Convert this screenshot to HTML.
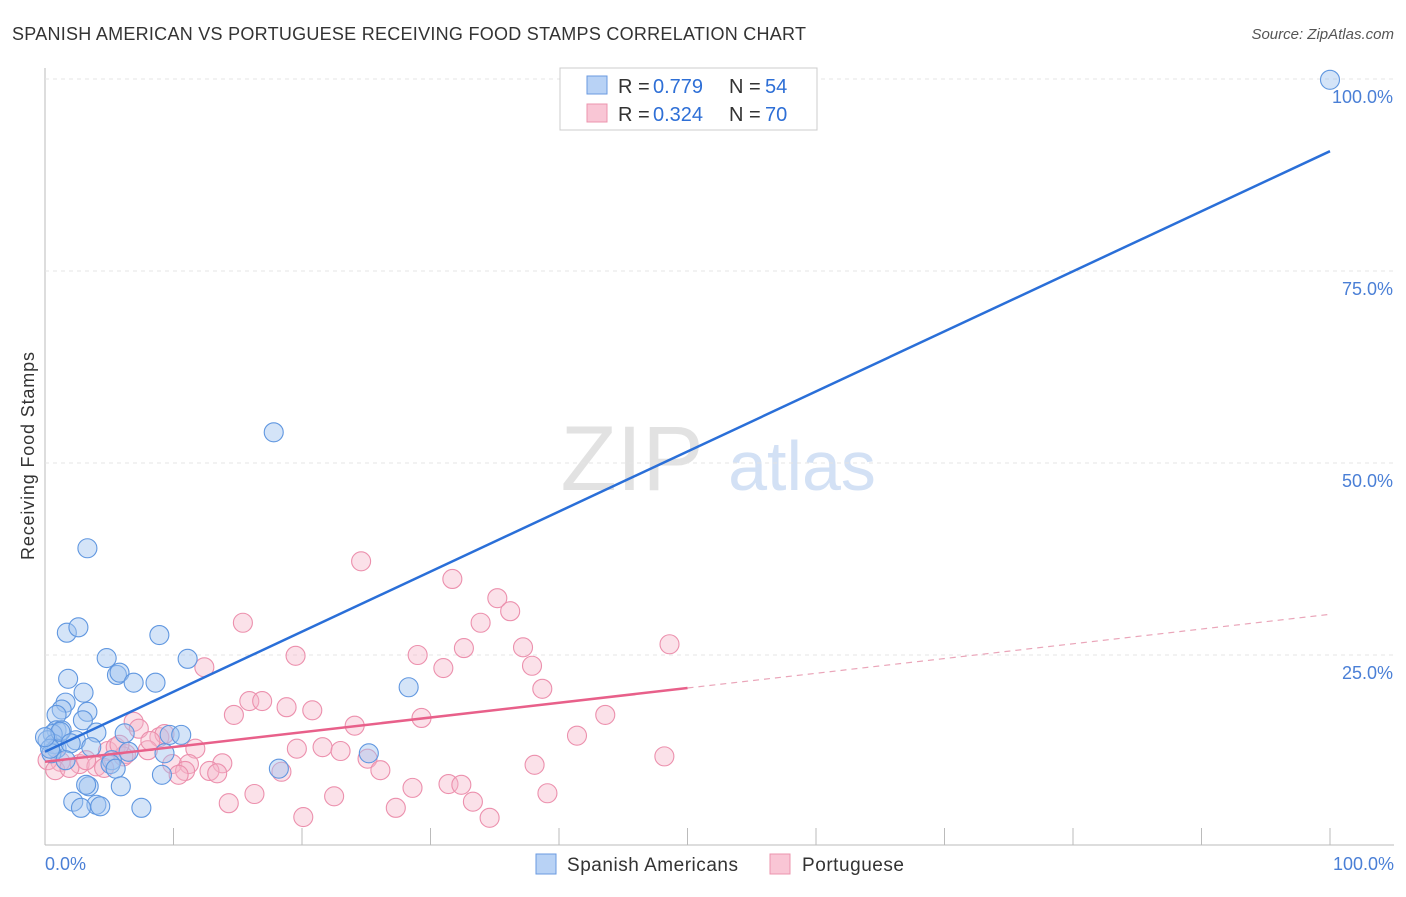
<!DOCTYPE html>
<html><head><meta charset="utf-8"><style>
body{margin:0;background:#fff;font-family:"Liberation Sans",sans-serif;}
svg text{font-family:"Liberation Sans",sans-serif;}
</style></head><body>
<svg id="c" width="1406" height="892">
<text x="12" y="40" font-size="18" textLength="794" fill="#333">SPANISH AMERICAN VS PORTUGUESE RECEIVING FOOD STAMPS CORRELATION CHART</text>
<text x="1394" y="39" font-size="15" fill="#555" font-style="italic" text-anchor="end">Source: ZipAtlas.com</text>
<text x="632" y="490" font-size="92" fill="#e2e2e2" font-family="Liberation Serif" text-anchor="middle">ZIP</text>
<text x="802" y="490" font-size="70" fill="#d3e1f5" text-anchor="middle">atlas</text>
<text transform="translate(34,456) rotate(-90)" font-size="18" textLength="208" fill="#333" text-anchor="middle">Receiving Food Stamps</text>
<g id="grid"></g><g id="pts"></g><g id="lines"></g>
<rect x="560" y="68" width="257" height="62" fill="#fff" stroke="#ccc"/>
<rect x="587" y="76" width="20" height="18" fill="#b8d2f5" stroke="#6a9ae0"/>
<rect x="587" y="104" width="20" height="18" fill="#f9c6d5" stroke="#ec94ae"/>
<text y="93" font-size="20" fill="#333"><tspan x="618">R = </tspan><tspan x="653" fill="#2e6fd6">0.779</tspan><tspan x="729">N = </tspan><tspan x="765" fill="#2e6fd6">54</tspan></text>
<text y="121" font-size="20" fill="#333"><tspan x="618">R = </tspan><tspan x="653" fill="#2e6fd6">0.324</tspan><tspan x="729">N = </tspan><tspan x="765" fill="#2e6fd6">70</tspan></text>
<text x="45" y="870" font-size="18" fill="#4a7fd6">0.0%</text>
<text x="1394" y="870" font-size="18" fill="#4a7fd6" text-anchor="end">100.0%</text>
<rect x="536" y="854" width="20" height="20" fill="#b8d2f5" stroke="#6a9ae0"/>
<text x="567" y="871" font-size="19" textLength="171" fill="#333">Spanish Americans</text>
<rect x="770" y="854" width="20" height="20" fill="#f9c6d5" stroke="#ec94ae"/>
<text x="802" y="871" font-size="19" textLength="102" fill="#333">Portuguese</text>
</svg>
<script>
const yTicks=[25,50,75,100];
const blueX=[17.8,3.3,1.7,2.6,8.9,11.1,4.8,5.6,5.8,6.9,8.6,1.8,3.0,28.3,1.6,3.3,1.3,0.9,2.950,0.9,1.3,0.6,4.0,6.2,9.7,10.6,0.2,2.4,0.7,0.9,3.6,6.5,9.3,0.5,5.2,5.1,5.5,25.2,18.2,9.1,5.9,3.4,3.2,2.2,4.0,4.3,2.8,7.5,100,0.4,1.2,2.0,0.0,1.6];
const blueY=[54.0,38.9,27.9,28.6,27.6,24.5,24.6,22.4,22.7,21.4,21.4,21.9,20.1,20.8,18.8,17.6,17.9,17.2,16.5,15.2,15.2,14.7,14.9,14.8,14.6,14.6,13.9,13.9,13.4,12.8,13.0,12.4,12.2,12.2,11.3,10.8,10.2,12.2,10.2,9.4,7.9,7.9,8.1,5.9,5.5,5.3,5.1,5.1,99.9,12.8,15.0,13.5,14.3,11.3];
const pinkX=[24.6,31.7,35.2,33.9,36.2,15.4,48.6,32.6,37.2,19.5,29.0,12.4,37.9,31.0,38.7,15.9,16.9,18.8,20.8,14.7,29.3,43.6,24.1,6.9,7.3,8.9,9.3,4.9,5.5,6.3,8.0,11.7,19.6,21.6,23.0,41.4,48.2,25.1,9.9,11.2,13.8,2.7,1.2,0.2,4.0,4.6,0.8,1.9,26.1,10.9,12.8,13.4,10.4,18.4,38.1,31.4,32.4,28.6,39.1,16.3,14.3,22.5,33.3,27.3,20.1,34.6,6.1,3.2,5.8,8.2];
const pinkY=[37.2,34.9,32.4,29.2,30.7,29.2,26.4,25.9,26.0,24.9,25.0,23.4,23.6,23.3,20.6,19.0,19.0,18.2,17.8,17.2,16.8,17.2,15.8,16.3,15.4,14.3,14.7,12.5,13.0,12.1,12.6,12.8,12.8,13.0,12.5,14.5,11.8,11.5,10.8,10.8,10.9,10.8,11.1,11.3,10.5,10.3,10.0,10.3,10.0,9.9,9.9,9.6,9.4,9.8,10.7,8.2,8.1,7.7,7.0,6.9,5.7,6.6,5.9,5.1,3.9,3.8,11.8,11.3,13.3,13.8];
const blueFit=[12.4,90.6];
const pinkFit=[11.1,30.3];
const pinkSolidEnd=50;
const NS="http://www.w3.org/2000/svg";
const sx=v=>45+v*12.85, sy=v=>847-v*7.68;
function mk(t,a,p){const e=document.createElementNS(NS,t);for(const k in a)e.setAttribute(k,a[k]);p.appendChild(e);return e;}
const g=document.getElementById('grid');
const ax=mk('line',{x1:45,y1:68,x2:45,y2:845,stroke:'#bbb'},g);


const bx=mk('line',{x1:45,y1:845,x2:1394,y2:845,stroke:'#bbb'},g);


for(let i=1;i<=10;i++){const t=mk('line',{x1:sx(i*10),y1:828,x2:sx(i*10),y2:845,stroke:'#bbb'},g);

}
yTicks.forEach(v=>{const l=mk('line',{x1:45,y1:sy(v),x2:1394,y2:sy(v),stroke:'#e4e4e4','stroke-dasharray':'4,4'},g);


const t=mk('text',{x:1393,y:sy(v)+24,'font-size':18,fill:'#4a7fd6','text-anchor':'end'},g);t.textContent=v.toFixed(1)+'%';

});
const p=document.getElementById('pts');
pinkX.forEach((x,i)=>{const c=mk('circle',{cx:sx(x),cy:sy(pinkY[i]),r:9.5,fill:'rgba(246,180,200,0.4)',stroke:'#ec90ad','stroke-width':1.1},p);

});
blueX.forEach((x,i)=>{const c=mk('circle',{cx:sx(x),cy:sy(blueY[i]),r:9.5,fill:'rgba(160,196,240,0.45)',stroke:'#6097e0','stroke-width':1.1},p);

});
const L=document.getElementById('lines');
const b=mk('line',{x1:sx(0),y1:sy(blueFit[0]),x2:sx(100),y2:sy(blueFit[1]),stroke:'#2a6fd8','stroke-width':2.5},L);


const pm=pinkFit[0]+(pinkFit[1]-pinkFit[0])*pinkSolidEnd/100;
const ps=mk('line',{x1:sx(0),y1:sy(pinkFit[0]),x2:sx(pinkSolidEnd),y2:sy(pm),stroke:'#e8608a','stroke-width':2.5},L);


const pd=mk('line',{x1:sx(pinkSolidEnd),y1:sy(pm),x2:sx(100),y2:sy(pinkFit[1]),stroke:'#eaa5b9','stroke-width':1.2,'stroke-dasharray':'6,5'},L);


</script>
</body></html>
